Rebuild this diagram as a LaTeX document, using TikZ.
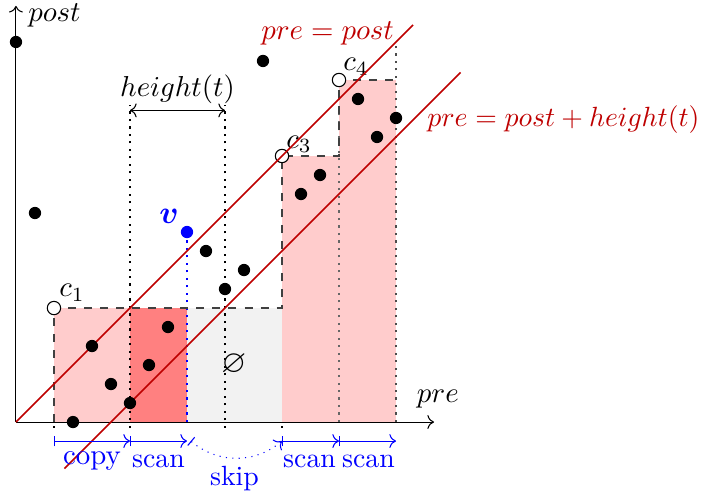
\documentclass[tikz,border=0pt]{standalone}
\usepackage{amsmath,amssymb}
\usetikzlibrary{arrows.meta}
\definecolor{dred}{RGB}{190,0,0}
\definecolor{lpink}{RGB}{255,204,204}
\definecolor{mred}{RGB}{255,128,128}
\definecolor{lgrey}{RGB}{242,242,242}
\newcommand{\lbltxt}[1]{\scalebox{1.08}{#1}}
\newcommand{\bottxt}[1]{\scalebox{1.04}{#1}}
\begin{document}
\begin{tikzpicture}[x=0.25cm,y=0.25cm,
  dot/.style={circle,fill=black,inner sep=0pt,minimum size=4.6pt},
  cmark/.style={circle,draw=black,fill=white,thin,inner sep=0pt,minimum size=5pt},
  vdot/.style={dotted,thick},
  interval/.style={blue,{Bar[width=4pt]}-{To}},
  redline/.style={dred,semithick}]
\useasboundingbox (-0.84,-3.79) rectangle (36.26,22.21);
% fills
\fill[lpink] (2,0) rectangle (6,6);
\fill[mred] (6,0) rectangle (9,6);
\fill[lgrey] (9,0) rectangle (14,6);
\fill[lpink] (14,0) rectangle (17,14);
\fill[lpink] (17,0) rectangle (20,18);
% dotted verticals
\draw[vdot] (6,-0.3) -- (6,16.7);
\draw[vdot] (11,-0.3) -- (11,16.7);
\draw[vdot,blue] (9,0) -- (9,10);
\draw[vdot,black!60] (17,0) -- (17,18);
\draw[vdot,black!70] (20,0) -- (20,19.8);
\draw[vdot] (2,-0.3) -- (2,0);
\draw[vdot] (14,-0.3) -- (14,0);
% dashed outline
\draw[dashed,black!75,semithick] (2,0) -- (2,6) -- (14,6) -- (14,14) -- (17,14) -- (17,18) -- (20,18);
% corners
\node[cmark] (c1) at (2,6) {};
\node[cmark] (c3) at (14,14) {};
\node[cmark] (c4) at (17,18) {};
\node (lc1) at (2.95,6.8) {\lbltxt{$c_1$}};
\node (lc3) at (14.9,14.6) {\lbltxt{$c_3$}};
\node (lc4) at (17.9,18.7) {\lbltxt{$c_4$}};
% axes
\coordinate (o) at (0,0);
\coordinate (xe) at (22,0);
\coordinate (ye) at (0,21.9);
\draw[->] (o) -- (xe);
\draw[->] (o) -- (ye);
\node[anchor=west] (lpost) at (0.15,21.4) {\lbltxt{$post$}};
\node (lpre) at (22.2,1.2) {\lbltxt{$pre$}};
% red lines
\coordinate (a1) at (0,0);
\coordinate (a2) at (20.9,20.9);
\coordinate (b1) at (2.55,-2.45);
\coordinate (b2) at (23.4,18.4);
\draw[redline] (a1) -- (a2);
\draw[redline] (b1) -- (b2);
\node[dred] (leq1) at (16.4,20.45) {\lbltxt{$pre = post$}};
\node[dred,anchor=west] (leq2) at (21.15,15.9) {\scalebox{1.04}{$pre = post + height(t)$}};
% height arrow
\coordinate (h1) at (6,16.4);
\coordinate (h2) at (11,16.4);
\draw[<->] (h1) -- (h2);
\node (lh) at (8.5,17.5) {\lbltxt{$height(t)$}};
% empty set
\node (es) at (11.47,3.05) {\large$\varnothing$};
% points
\node[dot] (p1) at (0,20) {};
\node[dot] (p2) at (1,11) {};
\node[dot] (p3) at (3,0) {};
\node[dot] (p4) at (4,4) {};
\node[dot] (p5) at (5,2) {};
\node[dot] (p6) at (6,1) {};
\node[dot] (p7) at (7,3) {};
\node[dot] (p8) at (8,5) {};
\node[dot,fill=blue] (v) at (9,10) {};
\node[dot] (p10) at (10,9) {};
\node[dot] (p11) at (11,7) {};
\node[dot] (p12) at (12,8) {};
\node[dot] (p13) at (13,19) {};
\node[dot] (p15) at (15,12) {};
\node[dot] (p16) at (16,13) {};
\node[dot] (p18) at (18,17) {};
\node[dot] (p19) at (19,15) {};
\node[dot] (p20) at (20,16) {};
\node[blue,font=\large] (lv) at (8.05,10.8) {$\boldsymbol{v}$};
% intervals
\coordinate (i2) at (2,-1);
\coordinate (i6) at (6,-1);
\coordinate (i9) at (9,-1);
\coordinate (i9s) at (9.2,-1);
\coordinate (i14) at (14,-1);
\coordinate (i17) at (17,-1);
\coordinate (i20) at (20,-1);
\draw[interval] (i2) -- (i6);
\draw[interval] (i6) -- (i9);
\draw[blue,dotted,{Bar[width=4pt]}-{To}] (i9s) to[bend right=40] (i14);
\draw[interval] (i14) -- (i17);
\draw[interval] (i17) -- (i20);
\node[blue] (lcopy) at (4,-2.05) {\lbltxt{copy}};
\node[blue] (lscan1) at (7.5,-2.05) {\bottxt{scan}};
\node[blue] (lskip) at (11.5,-2.95) {\bottxt{skip}};
\node[blue] (lscan2) at (15.45,-2.05) {\bottxt{scan}};
\node[blue] (lscan3) at (18.55,-2.05) {\bottxt{scan}};
\end{tikzpicture}
\end{document}
